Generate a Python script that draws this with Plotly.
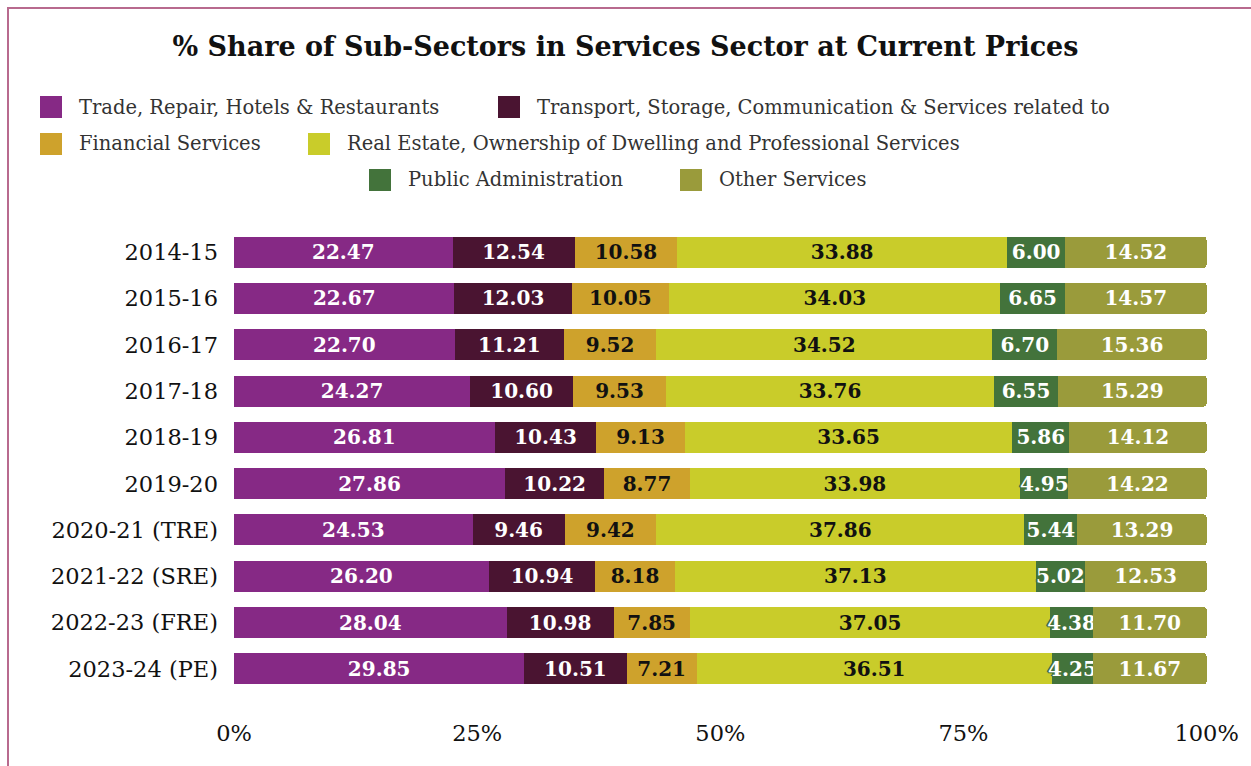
import plotly.graph_objects as go

years = ["2014-15", "2015-16", "2016-17", "2017-18", "2018-19", "2019-20",
         "2020-21 (TRE)", "2021-22 (SRE)", "2022-23 (FRE)", "2023-24 (PE)"]

sectors = ["Trade, Repair, Hotels & Restaurants",
           "Transport, Storage, Communication & Services related to",
           "Financial Services",
           "Real Estate, Ownership of Dwelling and Professional Services",
           "Public Administration",
           "Other Services"]

trade = [22.47, 22.67, 22.70, 24.27, 26.81, 27.86, 24.53, 26.20, 28.04, 29.85]
transport = [12.54, 12.03, 11.21, 10.60, 10.43, 10.22, 9.46, 10.94, 10.98, 10.51]
financial = [10.58, 10.05, 9.52, 9.53, 9.13, 8.77, 9.42, 8.18, 7.85, 7.21]
real_estate = [33.88, 34.03, 34.52, 33.76, 33.65, 33.98, 37.86, 37.13, 37.05, 36.51]
public_admin = [6.00, 6.65, 6.70, 6.55, 5.86, 4.95, 5.44, 5.02, 4.38, 4.25]
other = [14.52, 14.57, 15.36, 15.29, 14.12, 14.22, 13.29, 12.53, 11.70, 11.67]

x_ticks = [0, 25, 50, 75, 100]
x_tick_labels = ["0%", "25%", "50%", "75%", "100%"]

series = [trade, transport, financial, real_estate, public_admin, other]
colors = ["#862985", "#4a1431", "#cea22c", "#c9cc2a", "#43733b", "#9a9b3b"]
text_colors = ["#ffffff", "#ffffff", "#111111", "#111111", "#ffffff", "#ffffff"]

FONT = "DejaVu Serif"
W, H = 1251, 766
L, R, T, B = 234, 44, 229, 74
PW, PH = W - L - R, H - T - B

fig = go.Figure()
for name, vals, col, tcol in zip(sectors, series, colors, text_colors):
    tf = dict(family=FONT, size=20, color=tcol, weight="bold")
    if col == "#43733b":
        tf["shadow"] = ("1px 1px 0 #43733b, -1px -1px 0 #43733b, "
                        "1px -1px 0 #43733b, -1px 1px 0 #43733b, 2px 0 0 #43733b, -2px 0 0 #43733b")
    fig.add_trace(go.Bar(
        y=years, x=vals, name=name, orientation="h",
        marker=dict(color=col, line=dict(width=0)),
        texttemplate="%{x:.2f}", textposition="inside",
        insidetextanchor="middle", textangle=0, constraintext="none",
        insidetextfont=tf, showlegend=False, cliponaxis=False,
        hovertemplate="%{y}: %{x:.2f}<extra>" + name + "</extra>",
    ))

# manual legend (pixel layout -> paper coordinates)
def px(x):
    return (x - L) / PW

def py(y):
    return (H - B - y) / PH

legend_pos = [(40, 107), (498, 107), (40, 144), (308, 144), (369, 180), (680, 180)]
shapes = []
annotations = []
for name, col, (lx, ly) in zip(sectors, colors, legend_pos):
    shapes.append(dict(type="rect", xref="paper", yref="paper",
                       x0=px(lx), x1=px(lx + 22), y0=py(ly + 11), y1=py(ly - 11),
                       fillcolor=col, line=dict(width=0), layer="above"))
    annotations.append(dict(xref="paper", yref="paper", x=px(lx + 37), y=py(ly),
                            xanchor="left", yanchor="middle", showarrow=False,
                            text=name, font=dict(family=FONT, size=19.5, color="#333333")))

# outer border
shapes.append(dict(type="rect", xref="paper", yref="paper",
                   x0=px(8), x1=px(1300), y0=py(820), y1=py(8),
                   line=dict(color="#b86a8e", width=2), fillcolor="rgba(0,0,0,0)", layer="below"))

fig.update_layout(
    width=W, height=H,
    margin=dict(l=L, r=R, t=T, b=B),
    paper_bgcolor="white", plot_bgcolor="white",
    barmode="stack", bargap=0.33, barcornerradius=3,
    title=dict(text="% Share of Sub-Sectors in Services Sector at Current Prices",
               x=0.5, xanchor="center", y=1 - 47 / H, yanchor="middle",
               font=dict(family=FONT, size=27, color="#111111", weight="bold")),
    shapes=shapes, annotations=annotations,
    xaxis=dict(range=[0, 100.04], tickvals=x_ticks, ticktext=x_tick_labels,
               showgrid=False, zeroline=False, showline=False, ticks="",
               ticklabelstandoff=25,
               tickfont=dict(family=FONT, size=22.5, color="#111111")),
    yaxis=dict(autorange="reversed", showgrid=False, zeroline=False, showline=False,
               ticks="", ticklabelstandoff=15,
               tickfont=dict(family=FONT, size=22.5, color="#111111")),
    hovermode="closest",
)

fig.write_html("out.html")
